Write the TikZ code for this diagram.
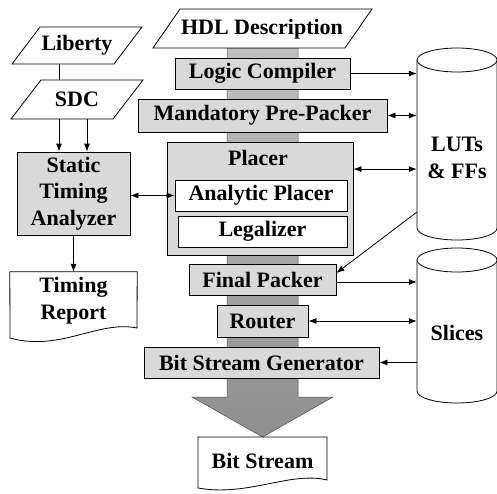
\documentclass[tikz,border=0pt]{standalone}
\usepackage{fontspec}
\setmainfont{Liberation Serif}
\usetikzlibrary{arrows.meta}
\definecolor{boxgray}{HTML}{D9D9D9}
\begin{document}
\begin{tikzpicture}[x=1pt,y=-1pt,
  txt/.style={font=\fontsize{22}{26.5}\selectfont\bfseries, align=center, inner sep=0pt},
  gbox/.style={txt, draw, fill=boxgray, line width=0.8pt},
  wbox/.style={txt, draw, fill=white, line width=0.8pt},
  outline/.style={draw, fill=white, line width=0.8pt},
  conn/.style={line width=0.8pt},
  tip/.style={-{Latex[length=8pt,width=6pt]}},
  dtip/.style={{Latex[length=8pt,width=6pt]}-{Latex[length=8pt,width=6pt]}}]
\useasboundingbox (0,0) rectangle (497,493);

% main flow bar with arrow head
\shade[top color=gray!50, bottom color=gray!88, draw=gray!60!black, line width=0.5pt]
  (227,48) -- (298,48) -- (298,397) -- (333,397) -- (262.5,437) -- (192,397) -- (227,397) -- cycle;

% HDL description
\draw[outline] (180,9) -- (372,9) -- (345,48) -- (153,48) -- cycle;
\node[txt] (hdl) at (262,29) {HDL Description};

% flow boxes
\node[gbox, minimum width=175pt, minimum height=31pt] (lc) at (262.5,73.5) {Logic Compiler};
\node[gbox, minimum width=249pt, minimum height=33pt] (pp) at (262.5,115.5) {Mandatory Pre-Packer};
\node[gbox, minimum width=186pt, minimum height=113pt] (pl) at (260,198.5) {};
\node[txt] (pllabel) at (258,158) {Placer};
\node[wbox, minimum width=172pt, minimum height=31pt] (ap) at (261,195.5) {Analytic Placer};
\node[wbox, minimum width=169pt, minimum height=31pt] (lg) at (262.5,231.5) {Legalizer};
\node[gbox, minimum width=147pt, minimum height=31pt] (fp) at (262.5,279.5) {Final Packer};
\node[gbox, minimum width=91pt, minimum height=32pt] (rt) at (262.5,321) {Router};
\node[gbox, minimum width=235pt, minimum height=31pt] (bsg) at (261.5,362.5) {Bit Stream Generator};

% Bit stream document
\draw[outline] (198,437) -- (327,437) -- (327,480) .. controls (290,471) and (248,497) .. (198,488) -- cycle;
\node[txt] (bs) at (262.5,461) {Bit Stream};

% Liberty and SDC
\draw[outline] (40,27) -- (142,27) -- (114,64) -- (12,64) -- cycle;
\node[txt, minimum height=37pt] (lib) at (77,45.5) {Liberty};
\draw[outline] (41,80) -- (143,80) -- (113,119) -- (11,119) -- cycle;
\node[txt, minimum height=39pt] (sdc) at (77,99.5) {SDC};

% Static timing analyzer
\node[gbox, minimum width=113pt, minimum height=83pt] (sta) at (73.5,193.5) {Static\\Timing\\Analyzer};

% Timing report document
\node[minimum width=127pt, minimum height=56pt, inner sep=0pt] (tr) at (73.5,300) {};
\draw[outline] (tr.north west) -- (tr.north east) -- (137,328) .. controls (98,320) and (60,352) .. (10,338) -- cycle;
\node[txt] (trtext) at (73.5,300.5) {Timing\\Report};

% cylinders
\draw[outline] (417,60) -- (417,228) arc[start angle=180, end angle=0, x radius=40, y radius=12] -- (497,60);
\draw[outline] (457,60) ellipse[x radius=40, y radius=12];
\node[txt, minimum width=80pt, minimum height=150pt] (luts) at (457,158) {LUTs\\\& FFs};

\draw[outline] (417,260) -- (417,391) arc[start angle=180, end angle=0, x radius=40, y radius=12] -- (497,260);
\draw[outline] (457,260) ellipse[x radius=40, y radius=12];
\node[txt, minimum width=80pt, minimum height=120pt] (sl) at (457,333) {Slices};

% connectors
\draw[conn] ([xshift=-18pt]lib.south) -- ([xshift=-18pt]sdc.north);
\draw[conn, tip] ([xshift=-18pt]sdc.south) -- ([xshift=-18pt]sdc.south |- sta.north);
\draw[conn, tip] ([xshift=10pt]sdc.south) -- ([xshift=10pt]sdc.south |- sta.north);
\draw[conn, tip] (sta.south) -- (tr.north);
\draw[conn, dtip] (ap.west -| sta.east) -- (ap.west);

\draw[conn, tip] (lc.east) -- (lc.east -| luts.west);
\draw[conn, dtip] (pp.east) -- (pp.east -| luts.west);
\draw[conn, dtip] ([yshift=-27.5pt]pl.north east) -- ([yshift=-27.5pt]pl.north east -| luts.west);
\coordinate (ldiag) at (417,212);
\draw[conn, tip] (ldiag) -- ([yshift=6.5pt]fp.east);

\draw[conn, tip] ([yshift=-2.5pt]fp.east) -- ([yshift=-2.5pt]fp.east -| sl.west);
\draw[conn, dtip] (rt.east) -- (rt.east -| sl.west);
\draw[conn, tip] (bsg.east -| sl.west) -- (bsg.east);
\end{tikzpicture}
\end{document}
